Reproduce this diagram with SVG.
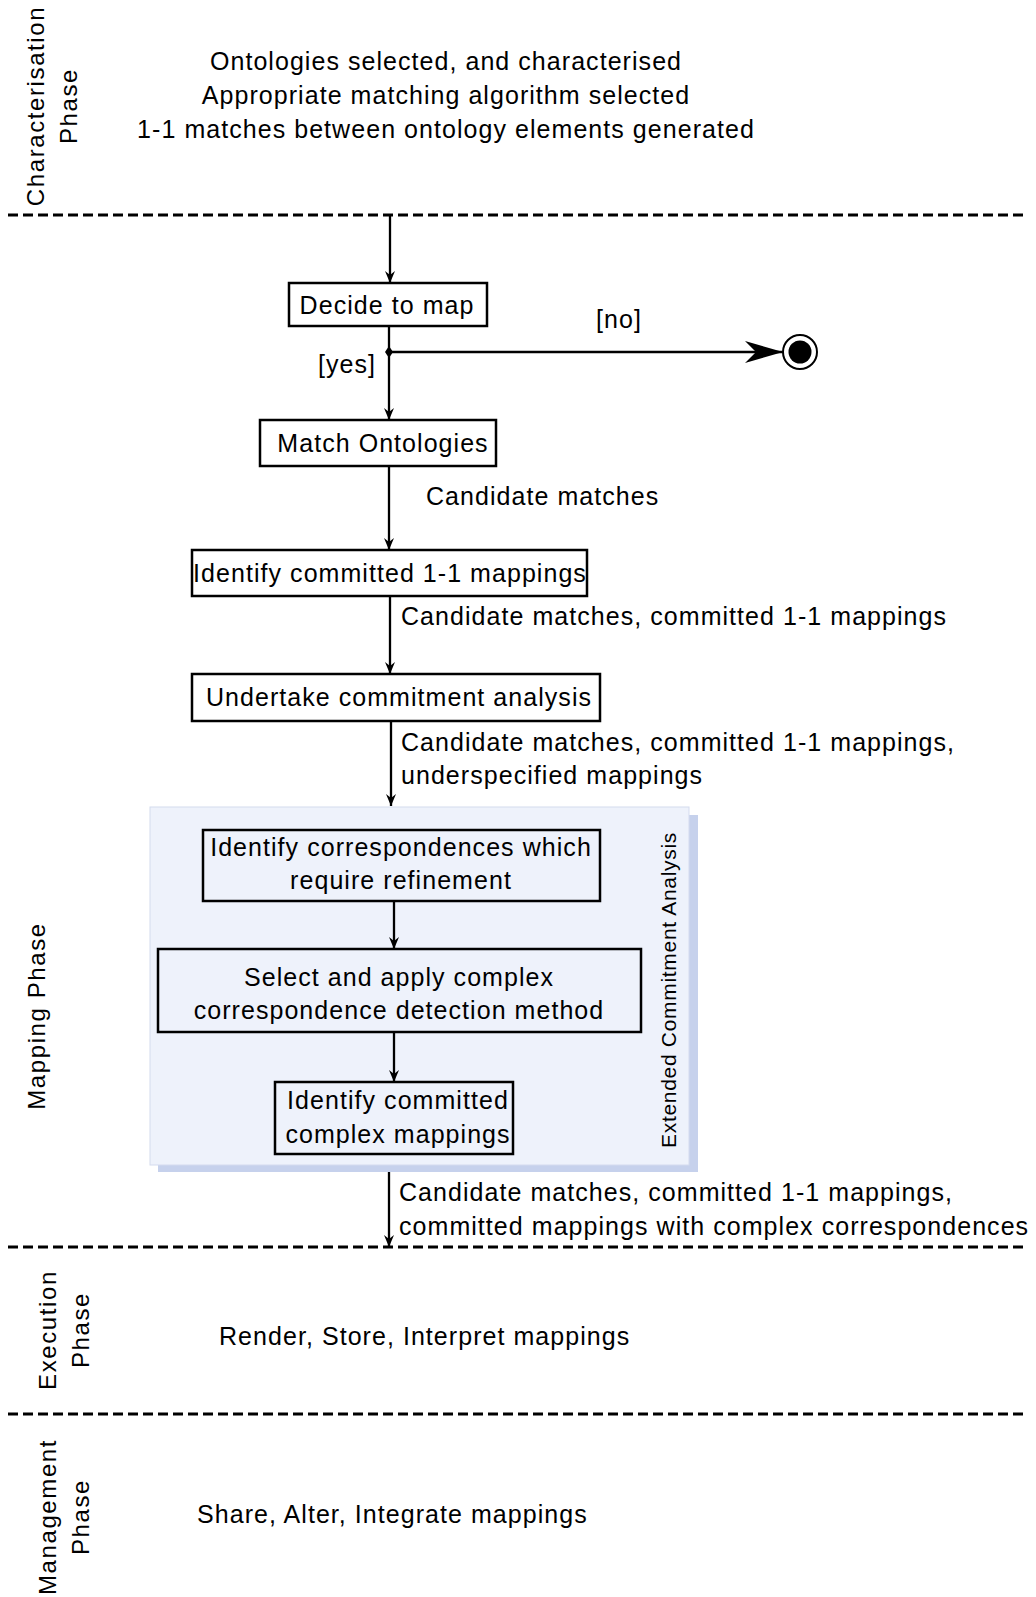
<svg xmlns="http://www.w3.org/2000/svg" width="1036" height="1597" viewBox="0 0 1036 1597">
  <style>
    text { font-family: "Liberation Sans", Arial, sans-serif; fill: #000; }
    .t { font-size: 25px; letter-spacing: 1.05px; }
    .ph { font-size: 24px; letter-spacing: 1.6px; }
    .small { font-size: 21px; letter-spacing: 0.7px; }
    .box { fill: none; stroke: #000; stroke-width: 2.5; }
    .sep { stroke: #000; stroke-width: 3; stroke-dasharray: 10 5; fill: none; }
    .flow { stroke: #000; stroke-width: 2.3; fill: none; }
  </style>
  <defs>
    <marker id="arr" viewBox="0 0 12 10" refX="12" refY="5" markerWidth="12" markerHeight="10" markerUnits="userSpaceOnUse" orient="auto">
      <path d="M0,0 L12,5 L0,10 L4,5 Z" fill="#000"/>
    </marker>
    <marker id="arrBig" viewBox="0 0 38 22" refX="38" refY="11" markerWidth="38" markerHeight="22" markerUnits="userSpaceOnUse" orient="auto">
      <path d="M0,0 L38,11 L0,22 L11,11 Z" fill="#000"/>
    </marker>
  </defs>

  <rect width="1036" height="1597" fill="#fff"/>

  <!-- phase separators -->
  <g id="separators">
    <line class="sep" x1="8" y1="215" x2="1026" y2="215"/>
    <line class="sep" x1="8" y1="1247" x2="1026" y2="1247"/>
    <line class="sep" x1="8" y1="1414" x2="1026" y2="1414"/>
  </g>

  <!-- phase labels -->
  <g id="phase-characterisation">
    <text class="ph" text-anchor="middle" transform="translate(44,106) rotate(-90)">Characterisation</text>
    <text class="ph" text-anchor="middle" transform="translate(77,106) rotate(-90)">Phase</text>
    <text class="t" text-anchor="middle" x="446" y="70">Ontologies selected, and characterised</text>
    <text class="t" text-anchor="middle" x="446" y="104">Appropriate matching algorithm selected</text>
    <text class="t" text-anchor="middle" x="446" y="138">1-1 matches between ontology elements generated</text>
  </g>
  <g id="phase-mapping">
    <text class="ph" text-anchor="middle" transform="translate(45,1016) rotate(-90)">Mapping Phase</text>
  </g>
  <g id="phase-execution">
    <text class="ph" text-anchor="middle" transform="translate(56,1330) rotate(-90)">Execution</text>
    <text class="ph" text-anchor="middle" transform="translate(89,1330) rotate(-90)">Phase</text>
    <text class="t" x="219" y="1345">Render, Store, Interpret mappings</text>
  </g>
  <g id="phase-management">
    <text class="ph" text-anchor="middle" transform="translate(56,1517) rotate(-90)">Management</text>
    <text class="ph" text-anchor="middle" transform="translate(89,1517) rotate(-90)">Phase</text>
    <text class="t" x="197" y="1523">Share, Alter, Integrate mappings</text>
  </g>

  <!-- extended commitment analysis container -->
  <g id="extended-commitment-analysis">
    <rect x="158" y="815" width="540" height="357" fill="#c6d1ec"/>
    <rect x="150" y="807" width="539" height="358" fill="#eef2fb" stroke="#d4dbee" stroke-width="1"/>
    <text class="small" text-anchor="middle" transform="translate(676,990) rotate(-90)">Extended Commitment Analysis</text>
  </g>

  <!-- connectors -->
  <g id="connectors">
    <line class="flow" x1="390" y1="215" x2="390" y2="283" marker-end="url(#arr)"/>
    <line class="flow" x1="389" y1="326" x2="389" y2="420" marker-end="url(#arr)"/>
    <line class="flow" x1="389" y1="352" x2="783" y2="352" marker-end="url(#arrBig)"/>
    <path d="M389,346 L393,352 L389,358 L385,352 Z" fill="#000"/>
    <line class="flow" x1="389" y1="466" x2="389" y2="550" marker-end="url(#arr)"/>
    <line class="flow" x1="390" y1="596" x2="390" y2="674" marker-end="url(#arr)"/>
    <line class="flow" x1="391" y1="721" x2="391" y2="806" marker-end="url(#arr)"/>
    <line class="flow" x1="394" y1="901" x2="394" y2="949" marker-end="url(#arr)"/>
    <line class="flow" x1="394" y1="1032" x2="394" y2="1082" marker-end="url(#arr)"/>
    <line class="flow" x1="389" y1="1172" x2="389" y2="1247" marker-end="url(#arr)"/>
    <text class="t" x="596" y="328">[no]</text>
    <text class="t" x="318" y="373">[yes]</text>
    <text class="t" x="426" y="505">Candidate matches</text>
    <text class="t" x="401" y="625">Candidate matches, committed 1-1 mappings</text>
    <text class="t" x="401" y="751">Candidate matches, committed 1-1 mappings,</text>
    <text class="t" x="401" y="784">underspecified mappings</text>
    <text class="t" x="399" y="1201">Candidate matches, committed 1-1 mappings,</text>
    <text class="t" x="399" y="1235">committed mappings with complex correspondences</text>
  </g>

  <!-- final node -->
  <g id="end">
    <circle cx="800" cy="352" r="17" fill="#fff" stroke="#000" stroke-width="2"/>
    <circle cx="800" cy="352" r="11.5" fill="#000"/>
  </g>

  <!-- activity nodes -->
  <g id="decide">
    <rect class="box" x="289" y="283" width="198" height="43" fill="#fff"/>
    <text class="t" text-anchor="middle" x="387" y="314">Decide to map</text>
  </g>
  <g id="match">
    <rect class="box" x="260" y="420" width="236" height="46"/>
    <text class="t" text-anchor="middle" x="383" y="452">Match Ontologies</text>
  </g>
  <g id="identify-11">
    <rect class="box" x="192" y="550" width="395" height="46"/>
    <text class="t" text-anchor="middle" x="390" y="582">Identify committed 1-1 mappings</text>
  </g>
  <g id="undertake">
    <rect class="box" x="192" y="674" width="408" height="47"/>
    <text class="t" text-anchor="middle" x="399" y="706">Undertake commitment analysis</text>
  </g>
  <g id="identify-refine">
    <rect class="box" x="203" y="830" width="397" height="71"/>
    <text class="t" text-anchor="middle" x="401" y="856">Identify correspondences which</text>
    <text class="t" text-anchor="middle" x="401" y="889">require refinement</text>
  </g>
  <g id="select-apply">
    <rect class="box" x="158" y="949" width="483" height="83"/>
    <text class="t" text-anchor="middle" x="399" y="986">Select and apply complex</text>
    <text class="t" text-anchor="middle" x="399" y="1019">correspondence detection method</text>
  </g>
  <g id="identify-complex">
    <rect class="box" x="275" y="1082" width="238" height="72"/>
    <text class="t" text-anchor="middle" x="398" y="1109">Identify committed</text>
    <text class="t" text-anchor="middle" x="398" y="1143">complex mappings</text>
  </g>
</svg>
